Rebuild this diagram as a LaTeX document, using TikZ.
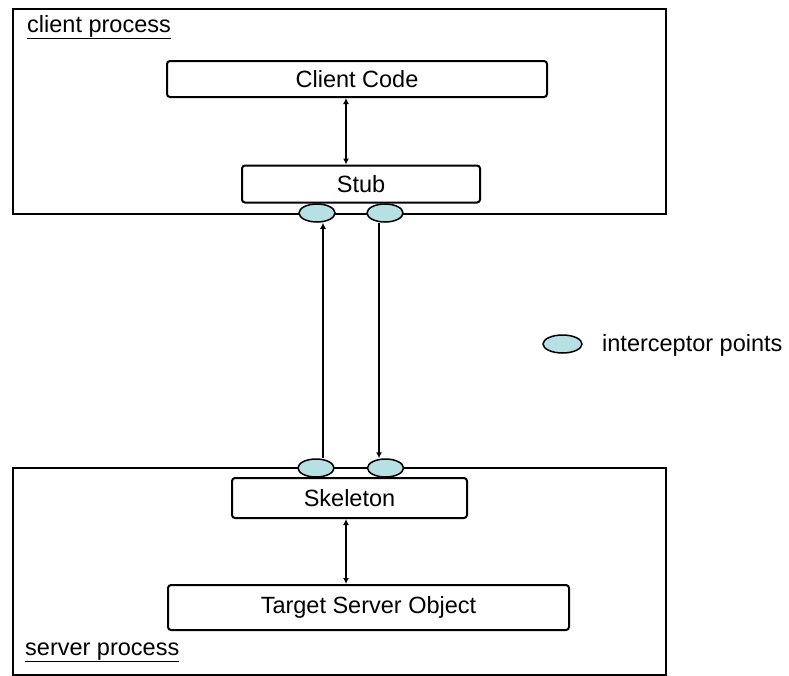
\documentclass[tikz,border=0pt]{standalone}
\usepackage{fontspec}
\setmainfont{Liberation Sans}
\usetikzlibrary{shapes.geometric,arrows.meta}
\definecolor{hookfill}{RGB}{183,224,228}
\begin{document}
\begin{tikzpicture}[x=1pt,y=-1pt,
  every node/.style={font=\fontsize{23.5}{28}\selectfont},
  procbox/.style={draw, line width=2.4pt, inner sep=0pt, anchor=north west},
  partbox/.style={draw, line width=2pt, rounded corners=3pt, inner sep=0pt},
  hook/.style={ellipse, draw, line width=1.5pt, fill=hookfill,
    minimum width=36pt, minimum height=18pt, inner sep=0pt},
  link/.style={line width=2pt}
]
\useasboundingbox (0,0) rectangle (789,675);

% process frames
\node[procbox, minimum width=653pt, minimum height=205pt] (client) at (12,8) {};
\node[procbox, minimum width=653pt, minimum height=207pt] (server) at (12,467) {};
\node[anchor=base west, inner sep=0pt] (clbl) at (27,32) {\underline{client process}};
\node[anchor=base west, inner sep=0pt] (slbl) at (25,655) {\underline{server process}};

% components
\node[partbox, minimum width=380pt, minimum height=36pt] (cc) at (357,79) {Client Code};
\node[partbox, minimum width=238pt, minimum height=37pt] (stub) at (361,184) {Stub};
\node[partbox, minimum width=235pt, minimum height=40pt] (skel) at (349.5,498) {Skeleton};
\node[partbox, minimum width=401pt, minimum height=45pt] (tso) at (368.5,607.5) {Target Server Object};

% x positions of the vertical links
\coordinate (cx) at (346,0);
\coordinate (l1) at (323,0);
\coordinate (l2) at (379,0);

% interceptor points
\node[hook] (co1) at (317,213) {};
\node[hook] (co2) at (385,213) {};
\node[hook] (so1) at (316,468) {};
\node[hook] (so2) at (385.5,468) {};

% links
\draw[link, {Latex[length=6pt,width=6pt]}-{Latex[length=6pt,width=6pt]}]
  (cc.south -| cx) -- (stub.north -| cx);
\draw[link, {Latex[length=6pt,width=6pt]}-{Latex[length=6pt,width=6pt]}]
  (skel.south -| cx) -- (tso.north -| cx);
\draw[link, {Latex[length=6pt,width=6pt]}-] (co1.south -| l1) -- (so1.north -| l1);
\draw[link, -{Latex[length=6pt,width=6pt]}] (co2.south -| l2) -- (so2.north -| l2);

% legend
\node[hook, minimum width=39pt] (leg) at (562.5,344) {};
\node[anchor=west, inner sep=0pt] (legtxt) at (602,345) {interceptor points};
\end{tikzpicture}
\end{document}
